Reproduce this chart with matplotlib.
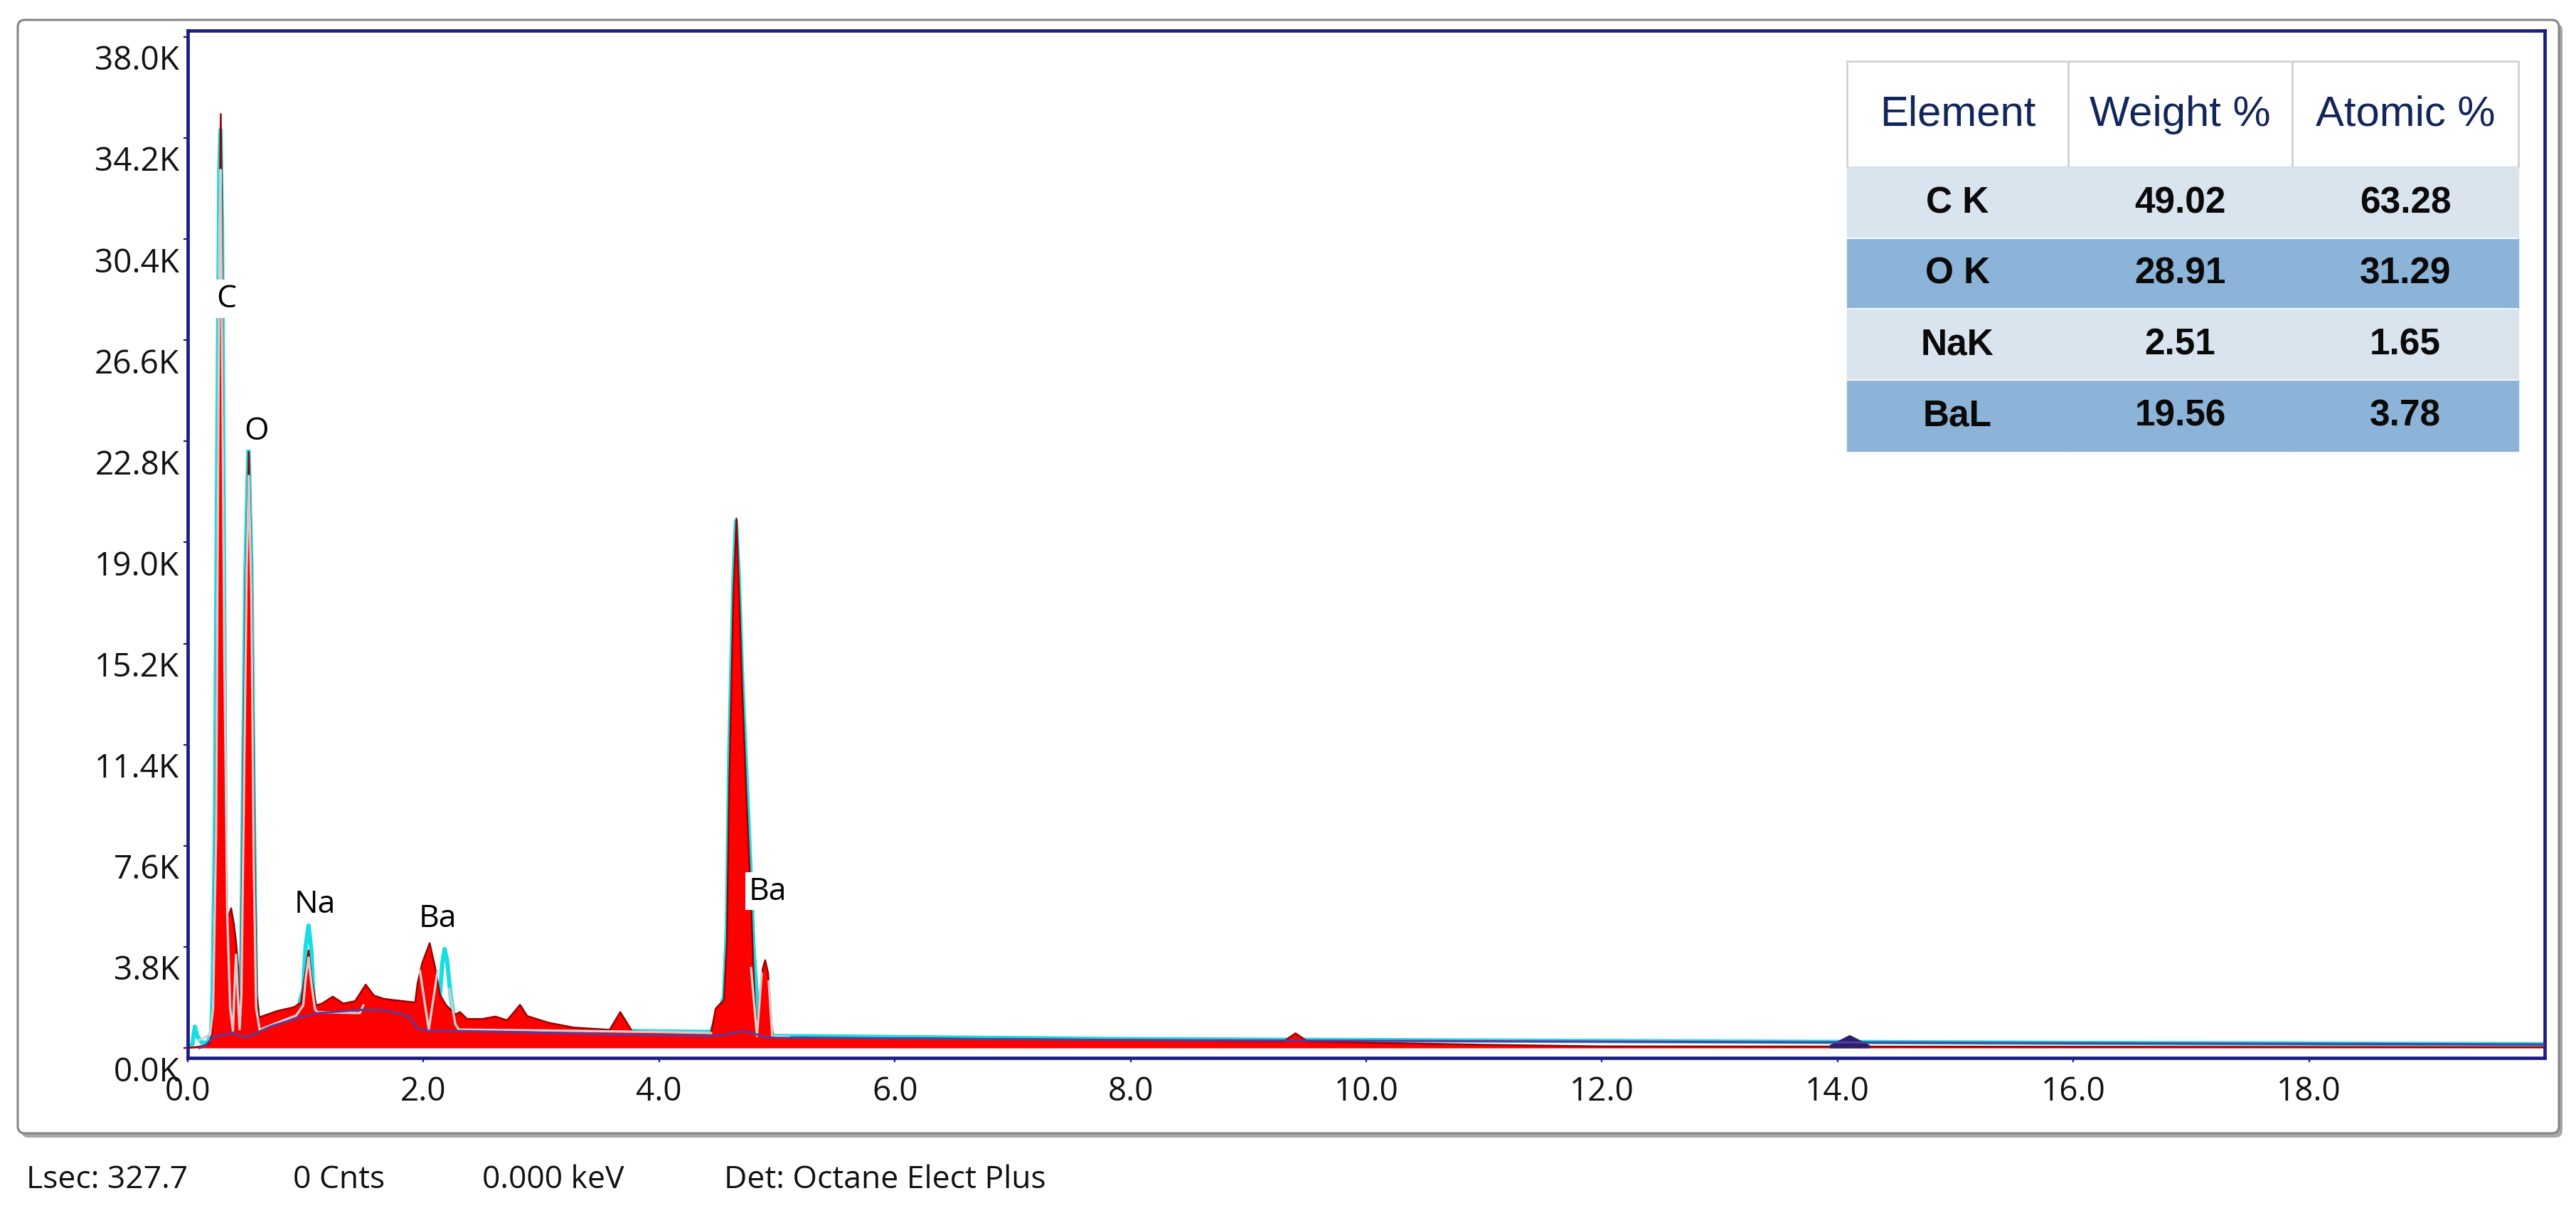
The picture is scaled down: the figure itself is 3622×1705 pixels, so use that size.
import matplotlib
matplotlib.use("Agg")
import matplotlib.pyplot as plt
import numpy as np
from matplotlib.patches import FancyBboxPatch
from matplotlib.transforms import ScaledTranslation

plt.rcParams['font.family'] = ['Open Sans', 'DejaVu Sans']

W, H, DPI = 3622, 1706, 100

# ---------------- data ----------------
x_ticks = [0.0, 2.0, 4.0, 6.0, 8.0, 10.0, 12.0, 14.0, 16.0, 18.0]
y_ticks_k = [0.0, 3.8, 7.6, 11.4, 15.2, 19.0, 22.8, 26.6, 30.4, 34.2, 38.0]

# measured spectrum (red fill): energy keV, counts in thousands
red_energy = [0.00, 0.10, 0.18, 0.205, 0.215, 0.235, 0.255, 0.27, 0.28, 0.29,
              0.305, 0.32, 0.335, 0.35, 0.368, 0.39, 0.41, 0.428, 0.44, 0.45,
              0.465, 0.49, 0.518, 0.545, 0.565, 0.585, 0.605, 0.76, 0.90, 0.96,
              0.99, 1.025, 1.055, 1.09, 1.14, 1.23, 1.32, 1.42, 1.51, 1.58,
              1.66, 1.745, 1.93, 1.95, 1.99, 2.053, 2.10, 2.14, 2.19, 2.27,
              2.31, 2.37, 2.50, 2.61, 2.71, 2.82, 2.88, 3.06, 3.27, 3.58,
              3.67, 3.77, 4.10, 4.44, 4.48, 4.55, 4.575, 4.595, 4.63, 4.656,
              4.675, 4.705, 4.74, 4.775, 4.80, 4.825, 4.85, 4.88, 4.90, 4.925,
              4.95, 4.97, 5.50, 6.50, 8.00, 9.30, 9.40, 9.50, 10.0, 11.0,
              12.0, 20.0]
red_kcounts = [0.00, 0.05, 0.15, 0.5, 2.0, 8.0, 20.0, 31.0, 35.1, 31.0,
               18.0, 8.0, 5.0, 5.0, 5.25, 4.7, 4.0, 3.0, 0.9, 2.0,
               8.0, 17.0, 22.4, 17.0, 8.0, 2.0, 1.15, 1.39, 1.53, 1.70,
               2.6, 3.67, 2.5, 1.6, 1.67, 1.93, 1.67, 1.76, 2.38, 1.97,
               1.85, 1.80, 1.71, 2.43, 3.2, 3.94, 3.0, 2.0, 1.62, 1.26,
               1.35, 1.09, 1.09, 1.18, 1.04, 1.62, 1.2, 0.95, 0.77, 0.68,
               1.35, 0.63, 0.58, 0.54, 1.48, 1.8, 4.0, 10.0, 17.0, 19.9,
               17.5, 13.5, 9.5, 6.0, 3.0, 0.6, 1.8, 3.0, 3.3, 2.8,
               1.0, 0.4, 0.38, 0.35, 0.30, 0.25, 0.55, 0.25, 0.2, 0.12,
               0.06, 0.03]

# overlay spectrum (cyan line)
cyan_energy = [0.00, 0.04, 0.06, 0.08, 0.12, 0.17, 0.20, 0.21, 0.23, 0.25,
               0.268, 0.278, 0.29, 0.305, 0.32, 0.34, 0.38, 0.43, 0.45, 0.465,
               0.49, 0.515, 0.54, 0.56, 0.58, 0.605, 0.75, 0.92, 0.98, 1.00,
               1.025, 1.05, 1.07, 1.10, 1.50, 1.90, 1.96, 2.10, 2.14, 2.16,
               2.18, 2.20, 2.23, 2.26, 2.30, 3.00, 4.00, 4.44, 4.50, 4.55,
               4.575, 4.595, 4.63, 4.652, 4.675, 4.705, 4.745, 4.78, 4.80, 4.84,
               4.88, 4.95, 5.00, 8.00, 12.0, 16.0, 20.0]
cyan_kcounts = [0.00, 0.15, 0.8, 0.45, 0.2, 0.2, 0.6, 2.0, 8.0, 22.0,
                33.0, 34.5, 31.0, 20.0, 7.0, 1.0, 0.6, 0.6, 1.5, 8.0,
                18.0, 22.6, 18.0, 9.0, 2.0, 0.8, 0.95, 1.2, 2.2, 3.8,
                4.6, 3.6, 1.6, 1.35, 1.35, 1.15, 0.72, 0.75, 2.0, 3.2,
                3.72, 3.3, 2.0, 1.1, 0.72, 0.68, 0.62, 0.6, 1.3, 1.9,
                4.5, 11.0, 17.5, 19.8, 17.8, 13.8, 9.8, 6.2, 3.8, 1.2,
                0.6, 0.46, 0.45, 0.33, 0.26, 0.19, 0.14]

# fitted spectrum (light grey line, gaps where hidden)
fit_energy = [0.10, 0.19, 0.215, 0.24, 0.258, 0.27, 0.278, 0.29, 0.31, 0.335,
              0.36, 0.383, 0.395, 0.41, 0.425, 0.44, 0.455, 0.475, 0.50, 0.518,
              0.54, 0.56, 0.58, 0.61, 0.76, 0.92, 0.98, 1.00, 1.025, 1.05,
              1.08, 1.10, 1.46, 1.49, 1.50, 1.97, 2.045, 2.12, 2.13, 2.22,
              2.27, 2.30, 3.00, 4.00, 4.44, 4.45, 4.78, 4.83, 4.87, 4.88,
              4.93, 4.96, 5.10]
fit_kcounts = [0.30, 0.5, 1.5, 8.0, 22.0, 31.0, 33.0, 27.0, 15.0, 5.0,
               1.5, 0.65, 2.0, 3.5, 2.0, 0.7, 2.0, 9.0, 18.0, 21.5,
               17.0, 7.0, 1.5, 0.68, 0.95, 1.22, 1.6, 2.6, 3.4, 2.4,
               1.45, 1.35, 1.31, 1.6, np.nan, 2.9, 0.69, 2.9, np.nan, 2.2,
               0.9, 0.69, 0.66, 0.6, 0.56, np.nan, 3.0, 0.45, 2.8, np.nan,
               2.5, 0.45, 0.42]

# background continuum (purple line)
bg_energy = [0.10, 0.15, 0.22, 0.30, 0.38, 0.45, 0.52, 0.60, 0.71, 0.94,
             1.10, 1.50, 1.66, 1.80, 1.89, 1.95, 2.05, 2.27, 2.89, 3.50,
             4.44, 4.55, 4.70, 4.80, 4.89, 5.00, 8.00, 12.0, 16.0, 20.0]
bg_kcounts = [0.0, 0.1, 0.42, 0.5, 0.55, 0.45, 0.42, 0.6, 0.82, 1.13,
              1.31, 1.44, 1.42, 1.3, 1.13, 0.73, 0.64, 0.64, 0.59, 0.52,
              0.45, 0.5, 0.63, 0.55, 0.41, 0.38, 0.30, 0.24, 0.18, 0.13]

# small navy peak near 14.1 keV
navy_energy = [13.93, 14.10, 14.27]
navy_kcounts = [0.12, 0.5, 0.12]

peak_labels = ["C", "O", "Na", "Ba", "Ba"]
peak_label_energy = [0.326, 0.58, 1.08, 2.12, 4.92]
peak_label_kcounts = [28.15, 23.2, 5.4, 4.87, 5.9]

table_header = ["Element", "Weight %", "Atomic %"]
table_elements = ["C K", "O K", "NaK", "BaL"]
table_weight = ["49.02", "28.91", "2.51", "19.56"]
table_atomic = ["63.28", "31.29", "1.65", "3.78"]

footer_items = ["Lsec: 327.7", "0 Cnts", "0.000 keV", "Det: Octane Elect Plus"]

# ---------------- figure ----------------
fig = plt.figure(figsize=(W / DPI, H / DPI), dpi=DPI)
fig.patch.set_facecolor("white")

# background layer in pixel coordinates (frame + footer)
bg = fig.add_axes([0, 0, 1, 1], zorder=0)
bg.set_xlim(0, W)
bg.set_ylim(H, 0)
bg.axis("off")
shadow = FancyBboxPatch((30, 34), 3573, 1566, boxstyle="round,pad=0,rounding_size=10",
                        fc="#a8a8a8", ec="none")
frame = FancyBboxPatch((25, 29), 3573, 1565, boxstyle="round,pad=0,rounding_size=10",
                       fc="white", ec="#858585", lw=2.2)
bg.add_patch(shadow)
bg.add_patch(frame)
for txt, xp in zip(footer_items, [37, 412, 678, 1018]):
    bg.text(xp, 1659, txt, ha="left", va="center", fontsize=32, color="#111111")

# main spectrum axes
ax_left, ax_right, ax_top, ax_bot = 264, 3578, 44, 1488
ax = fig.add_axes([ax_left / W, 1 - ax_bot / H, (ax_right - ax_left) / W, (ax_bot - ax_top) / H],
                  zorder=1)
ax.set_facecolor("white")
navy = "#1b1b86"

ax.plot(cyan_energy, cyan_kcounts, color="#19dde3", lw=4.4, zorder=2,
        solid_joinstyle="round")
ax.fill_between(red_energy, 0, red_kcounts, color="#ff0000", lw=0, zorder=3)
ax.plot(red_energy, red_kcounts, color="#9a0000", lw=1.8, zorder=3.5)
ax.fill_between(navy_energy, 0, navy_kcounts, color="#2a1f6e", lw=0, zorder=3.6)
ax.plot(fit_energy, fit_kcounts, color="#d6cccc", lw=2.4, zorder=4)
ax.plot(bg_energy, bg_kcounts, color="#5a3c9c", lw=2.2, zorder=5)

for lab, e, c in zip(peak_labels, peak_label_energy, peak_label_kcounts):
    ax.text(e, c, lab, ha="center", va="center", fontsize=32, color="black", zorder=7,
            bbox=dict(boxstyle="square,pad=0.1", fc="white", ec="none"))

ax.set_xlim(0, 20.0)
ax.set_ylim(-0.374, 38.235)
ax.set_xticks(x_ticks)
ax.set_xticklabels([f"{v:.1f}" for v in x_ticks])
ax.set_yticks(y_ticks_k)
ax.set_yticklabels([f"{v:.1f}K" for v in y_ticks_k])
ax.tick_params(axis="both", direction="out", length=4.5, width=1.6, color=navy,
               labelsize=33, labelcolor="#111111")
ax.tick_params(axis="x", pad=13)
ax.tick_params(axis="y", pad=4)
for sp in ax.spines.values():
    sp.set_color(navy)
    sp.set_linewidth(3.4)

shift = ScaledTranslation(0, -0.28, fig.dpi_scale_trans)
for lbl in ax.get_yticklabels():
    lbl.set_transform(lbl.get_transform() + shift)

# results table
t_left, t_right, t_top, t_bot = 2597, 3541, 87, 635
tax = fig.add_axes([t_left / W, 1 - t_bot / H, (t_right - t_left) / W, (t_bot - t_top) / H],
                   zorder=3)
tax.set_xlim(0, 1)
tax.set_ylim(0, 1)
tax.axis("off")
cell_text = [[e, w, a] for e, w, a in zip(table_elements, table_weight, table_atomic)]
tbl = tax.table(cellText=cell_text, colLabels=table_header, cellLoc="center",
                bbox=[0, 0, 1, 1])
tbl.auto_set_font_size(False)
col_w = [311, 315, 318]
row_h = [149, 100, 100, 100, 100]
light_row, dark_row = "#d9e4ef", "#8cb3d8"
for (r, c), cell in tbl.get_celld().items():
    cell.set_width(col_w[c] / sum(col_w))
    cell.set_height(row_h[r] / sum(row_h))
    t = cell.get_text()
    t.set_fontfamily(["Liberation Sans", "DejaVu Sans"])
    if r == 0:
        cell.set_facecolor("white")
        cell.set_edgecolor("#d2d2d2")
        cell.set_linewidth(2.0)
        t.set_fontsize(43)
        t.set_color("#13265a")
    else:
        fc = light_row if r % 2 == 1 else dark_row
        cell.set_facecolor(fc)
        cell.set_edgecolor(fc)
        cell.set_linewidth(1.0)
        t.set_fontsize(37)
        t.set_fontweight("bold")
        t.set_color("#0a0a0a")
# thin light separators between data rows
acc = 0
for h in row_h[:0:-1][:-1]:
    acc += h
    tax.axhline(acc / sum(row_h), color="#f4f6fa", lw=1.6, zorder=5)

fig.savefig("out.png", dpi=DPI, facecolor="white")
